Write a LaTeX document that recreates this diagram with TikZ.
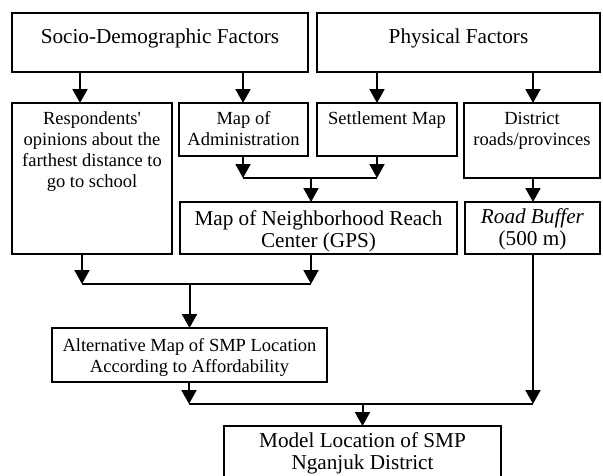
\documentclass[tikz,border=0pt]{standalone}
\usepackage{fontspec}
\setmainfont{Liberation Serif}
\usetikzlibrary{arrows.meta}

% box body: width, height, space above the first line, text (top aligned, centred)
\newcommand{\boxbody}[4]{\parbox[c][#2][t]{#1}{\centering\vspace*{#3}\strut #4\par}}

\tikzset{
  box/.style={draw, line width=2.3pt, inner sep=0pt, outer sep=0pt, anchor=north west},
  big/.style={font=\fontsize{21.2pt}{22.5pt}\selectfont},
  small/.style={font=\fontsize{18.5pt}{21pt}\selectfont},
  link/.style={line width=2pt},
  arr/.style={link, -{Triangle[width=15pt,length=14pt]}},
}

\begin{document}
\begin{tikzpicture}[x=1pt, y=-1pt]
\useasboundingbox (0,0) rectangle (603,475);
\clip (0,0) rectangle (603,475);

% factor headers
\node[box, big] (soc) at (12,13) {\boxbody{296pt}{59pt}{14.75pt}{Socio-Demographic Factors}};
\node[box, big] (phy) at (317,13) {\boxbody{283pt}{59pt}{14.75pt}{Physical Factors}};

% input data
\node[box, small] (resp) at (12,103) {\boxbody{160pt}{151pt}{6.8pt}{Respondents\textquotesingle\\opinions about the\\farthest distance to\\go to school}};
\node[box, small] (adm) at (179,103) {\boxbody{129pt}{53pt}{6.8pt}{Map of\\Administration}};
\node[box, small] (set) at (317,103) {\boxbody{140pt}{53pt}{6.8pt}{Settlement Map}};
\node[box, small] (dist) at (464,103) {\boxbody{136pt}{75pt}{6.8pt}{District\\roads/provinces}};

% intermediate maps
\node[box, big] (nbh) at (180,202) {\boxbody{277pt}{52pt}{7.25pt}{Map of Neighborhood Reach\\Center (GPS)}};
\node[box, big] (road) at (465,202) {\boxbody{135pt}{52pt}{5.25pt}{\textit{Road Buffer}\\(500 m)}};
\node[box, small] (alt) at (52,328) {\boxbody{275pt}{54pt}{8.8pt}{Alternative Map of SMP Location\\According to Affordability}};

% result
\node[box, big] (model) at (224,426) {\boxbody{277pt}{70pt}{5.25pt}{Model Location of SMP\\Nganjuk District}};

% arrow columns and junctions
\coordinate (ca) at (80,0);
\coordinate (j1l) at (243,178);
\coordinate (j1r) at (377,178);
\coordinate (j1c) at (311,178);
\coordinate (j2l) at (82,284);
\coordinate (j2r) at (311,284);
\coordinate (j3l) at (189,404);
\coordinate (j3r) at (533,404);

% headers to inputs
\draw[arr] (soc.south -| ca) -- (resp.north -| ca);
\draw[arr] (soc.south -| j1l) -- (adm.north -| j1l);
\draw[arr] (phy.south -| j1r) -- (set.north -| j1r);
\draw[arr] (phy.south -| j3r) -- (dist.north -| j3r);

% administration + settlement -> neighborhood reach
\draw[arr] (adm.south -| j1l) -- (j1l);
\draw[arr] (set.south -| j1r) -- (j1r);
\draw[link] (j1l) -- (j1r);
\draw[arr] (j1c) -- (nbh.north -| j1c);

% roads -> buffer
\draw[arr] (dist.south -| j3r) -- (road.north -| j3r);

% opinions + neighborhood reach -> alternative map
\draw[arr] (resp.south -| j2l) -- (j2l);
\draw[arr] (nbh.south -| j2r) -- (j2r);
\draw[link] (j2l) -- (j2r);
\draw[arr] (alt.north |- j2l) -- (alt.north);

% alternative map + buffer -> model
\draw[arr] (alt.south -| j3l) -- (j3l);
\draw[arr] (road.south -| j3r) -- (j3r);
\draw[link] (j3l) -- (j3r);
\draw[arr] (model.north |- j3l) -- (model.north);
\end{tikzpicture}
\end{document}
